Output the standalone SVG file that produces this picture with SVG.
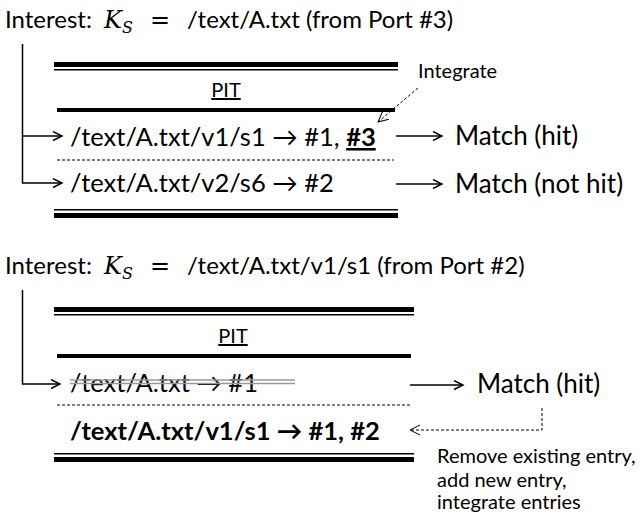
<svg xmlns="http://www.w3.org/2000/svg" width="642" height="513" viewBox="0 0 642 513">
<style>
.t{font-family:Lato,"Liberation Sans",sans-serif;fill:#000}
.title{font-size:24px}
.m{font-family:"DejaVu Serif","Liberation Serif",serif;font-style:italic}
.eq{font-family:"DejaVu Serif","Liberation Serif",serif}
.pit{font-size:20px;text-decoration:underline}
.row{font-size:25.5px}
.match{font-size:26px}
.note{font-size:20px}
.ln{stroke:#000;fill:none}
.dash{stroke:#000;fill:none;stroke-width:1;stroke-dasharray:3,2}
</style>
<defs>
<marker id="ah" markerWidth="12" markerHeight="12" refX="10" refY="5" orient="auto" markerUnits="userSpaceOnUse">
<path d="M1,0.5 L10,5 L1,9.5" fill="none" stroke="#000" stroke-width="1.4"/>
</marker>
<marker id="ahs" markerWidth="14" markerHeight="14" refX="11" refY="6" orient="auto" markerUnits="userSpaceOnUse">
<path d="M1,1 L11,6 L1,11" fill="none" stroke="#000" stroke-width="1"/>
</marker>
</defs>

<g id="title1">
<text class="t title" y="28"><tspan x="5">Interest:</tspan><tspan class="m" x="104">K</tspan><tspan class="m" x="122" dy="5" font-size="16">S</tspan><tspan class="eq" x="150" dy="-5">=</tspan><tspan x="187">/text/A.txt (from Port #3)</tspan></text>
</g>

<g id="pit1">
<rect x="54" y="62" width="344" height="5"/>
<rect x="54" y="69" width="344" height="1.5"/>
<text class="t pit" x="226" y="97" text-anchor="middle">PIT</text>
<rect x="57" y="108" width="338" height="4"/>
<text class="t row" x="70" y="146">/text/A.txt/v1/s1 → #1, <tspan font-weight="bold" text-decoration="underline">#3</tspan></text>
<line class="dash" x1="57" y1="160" x2="394" y2="160"/>
<text class="t row" x="70" y="192">/text/A.txt/v2/s6 → #2</text>
<rect x="54" y="209" width="344" height="1.5"/>
<rect x="54" y="213" width="344" height="5"/>
</g>

<g id="integrate">
<text class="t note" x="418" y="78">Integrate</text>
</g>
<g id="match1"><text class="t match" x="455" y="145">Match (hit)</text></g>
<g id="match2"><text class="t match" x="455" y="193">Match (not hit)</text></g>

<g id="title2">
<text class="t title" y="274"><tspan x="5">Interest:</tspan><tspan class="m" x="104">K</tspan><tspan class="m" x="122" dy="5" font-size="16">S</tspan><tspan class="eq" x="150" dy="-5">=</tspan><tspan x="187">/text/A.txt/v1/s1 (from Port #2)</tspan></text>
</g>

<g id="pit2">
<rect x="54" y="307" width="360" height="5"/>
<rect x="54" y="314" width="360" height="1.5"/>
<text class="t pit" x="233" y="343" text-anchor="middle">PIT</text>
<rect x="57" y="354" width="354" height="4"/>
<text class="t row" x="70" y="392">/text/A.txt → #1</text>
<line x1="70" y1="380" x2="295" y2="380" stroke="#999" stroke-width="1.3"/>
<line x1="70" y1="383.5" x2="295" y2="383.5" stroke="#999" stroke-width="1.3"/>
<line class="dash" x1="57" y1="405" x2="410" y2="405"/>
<text class="t row" x="70" y="440" font-weight="bold">/text/A.txt/v1/s1 → #1, #2</text>
<rect x="54" y="453" width="360" height="1.5"/>
<rect x="54" y="457" width="360" height="5"/>
</g>

<g id="match3"><text class="t match" x="477" y="393">Match (hit)</text></g>
<g id="note">
<text class="t note"><tspan x="437" y="463">Remove existing entry,</tspan><tspan x="437" y="487">add new entry,</tspan><tspan x="437" y="509">integrate entries</tspan></text>
</g>

<g id="connectors">
<path class="ln" stroke-width="1.5" d="M22.5,44 V183 H62" marker-end="url(#ah)"/>
<path class="ln" stroke-width="1.5" d="M22.5,136 H62" marker-end="url(#ah)"/>
<path class="ln" stroke-width="1.3" d="M396,136 H442" marker-end="url(#ah)"/>
<path class="ln" stroke-width="1.3" d="M396,184 H442" marker-end="url(#ah)"/>
<path class="dash" d="M418,88 L378,122" marker-end="url(#ahs)"/>
<path class="ln" stroke-width="1.5" d="M22.5,290 V384 H60" marker-end="url(#ah)"/>
<path class="ln" stroke-width="1.3" d="M410,385 H463" marker-end="url(#ah)"/>
<path class="dash" d="M542,408 V430 H410" marker-end="url(#ahs)"/>
</g>
</svg>
